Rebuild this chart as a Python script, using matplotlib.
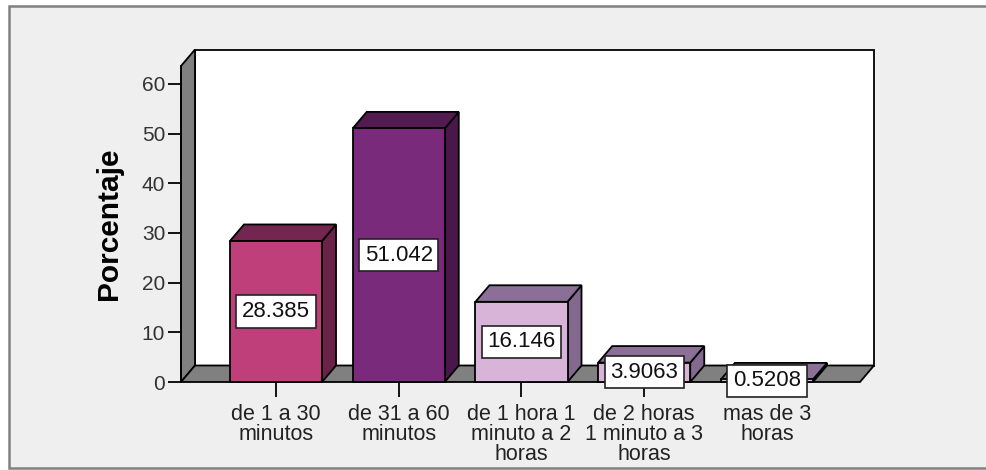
import numpy as np
import matplotlib
matplotlib.use('Agg')
import matplotlib.pyplot as plt
from matplotlib.patches import Polygon, Rectangle

plt.rcParams['font.family'] = ['Liberation Sans', 'DejaVu Sans']

# datos
categorias = ['de 1 a 30\nminutos', 'de 31 a 60\nminutos', 'de 1 hora 1\nminuto a 2\nhoras',
              'de 2 horas\n1 minuto a 3\nhoras', 'mas de 3\nhoras']
porcentajes = [28.385, 51.042, 16.146, 3.9063, 0.5208]
etiquetas = ['28.385', '51.042', '16.146', '3.9063', '0.5208']
y_ticks = [0, 10, 20, 30, 40, 50, 60]

col_frente = ['#BF3F7B', '#7A2A7A', '#D8B5D8', '#D8B5D8', '#D8B5D8']
col_arriba = ['#73264F', '#521B52', '#8B6F96', '#8B6F96', '#8B6F96']
col_lado = ['#6B2249', '#4A174A', '#84698F', '#84698F', '#84698F']

W, H = 986, 470
fig = plt.figure(figsize=(W / 100, H / 100), dpi=100, facecolor='white')

# marco exterior gris
fig.patches.append(Rectangle((9 / W, 1 - 468 / H), 1.2, (468 - 6) / H, transform=fig.transFigure,
                             facecolor='#EFEFEF', edgecolor='#808080', linewidth=1.8, zorder=-1))

ax = fig.add_axes([181 / W, 1 - 382 / H, (860 - 181) / W, (382 - 66) / H])
ax.set_zorder(2)
ax.patch.set_visible(False)

xl, xr = -0.774, 4.758
ytop = 63.6
ax.set_xlim(xl, xr)
ax.set_ylim(0, ytop)

# profundidad 3D en unidades de datos
dx = 14 / (679 / (xr - xl))
dy = 16.5 / (316 / ytop)
ancho = 0.75

kw = dict(edgecolor='black', linewidth=1.3, clip_on=False, joinstyle='miter')

# pared de fondo
ax.add_patch(Rectangle((xl + dx, dy), xr - xl, ytop, facecolor='white', zorder=1, **kw))
# pared izquierda
ax.add_patch(Polygon([(xl, 0), (xl, ytop), (xl + dx, ytop + dy), (xl + dx, dy)],
                     facecolor='#808080', zorder=2, **kw))
# piso
ax.add_patch(Polygon([(xl, 0), (xr, 0), (xr + dx, dy), (xl + dx, dy)],
                     facecolor='#808080', zorder=2, **kw))

for i, v in enumerate(porcentajes):
    x0, x1 = i - ancho / 2, i + ancho / 2
    ax.add_patch(Polygon([(x1, 0), (x1 + dx, dy), (x1 + dx, v + dy), (x1, v)],
                         facecolor=col_lado[i], zorder=3, **kw))
    ax.add_patch(Polygon([(x0, v), (x1, v), (x1 + dx, v + dy), (x0 + dx, v + dy)],
                         facecolor=col_arriba[i], zorder=3, **kw))
    ax.add_patch(Rectangle((x0, 0), ancho, v, facecolor=col_frente[i], zorder=4, **kw))
    ax.text(i, v / 2, etiquetas[i], ha='center', va='center', fontsize=16, color='#111111',
            zorder=6, bbox=dict(boxstyle='square,pad=0.25', facecolor='white',
                                edgecolor='#222222', linewidth=1.2))

for s in ['top', 'right', 'bottom']:
    ax.spines[s].set_visible(False)
ax.spines['left'].set_linewidth(1.3)
ax.spines['left'].set_zorder(5)

ax.set_yticks(y_ticks)
ax.set_yticklabels([str(t) for t in y_ticks])
ax.set_xticks(range(len(categorias)))
ax.set_xticklabels(categorias, linespacing=0.95)
ax.tick_params(axis='y', direction='out', length=9.4, width=1.3, pad=2,
               labelsize=15, labelcolor='#333333')
ax.tick_params(axis='x', direction='out', length=10.5, width=1.3, pad=5,
               labelsize=15.5, labelcolor='#222222')

ax.set_ylabel('Porcentaje', fontsize=21.5, fontweight='bold', color='black')
ax.yaxis.set_label_coords(-0.086, 0.5)

plt.savefig('out.png', dpi=100, facecolor='white')
plt.close()
